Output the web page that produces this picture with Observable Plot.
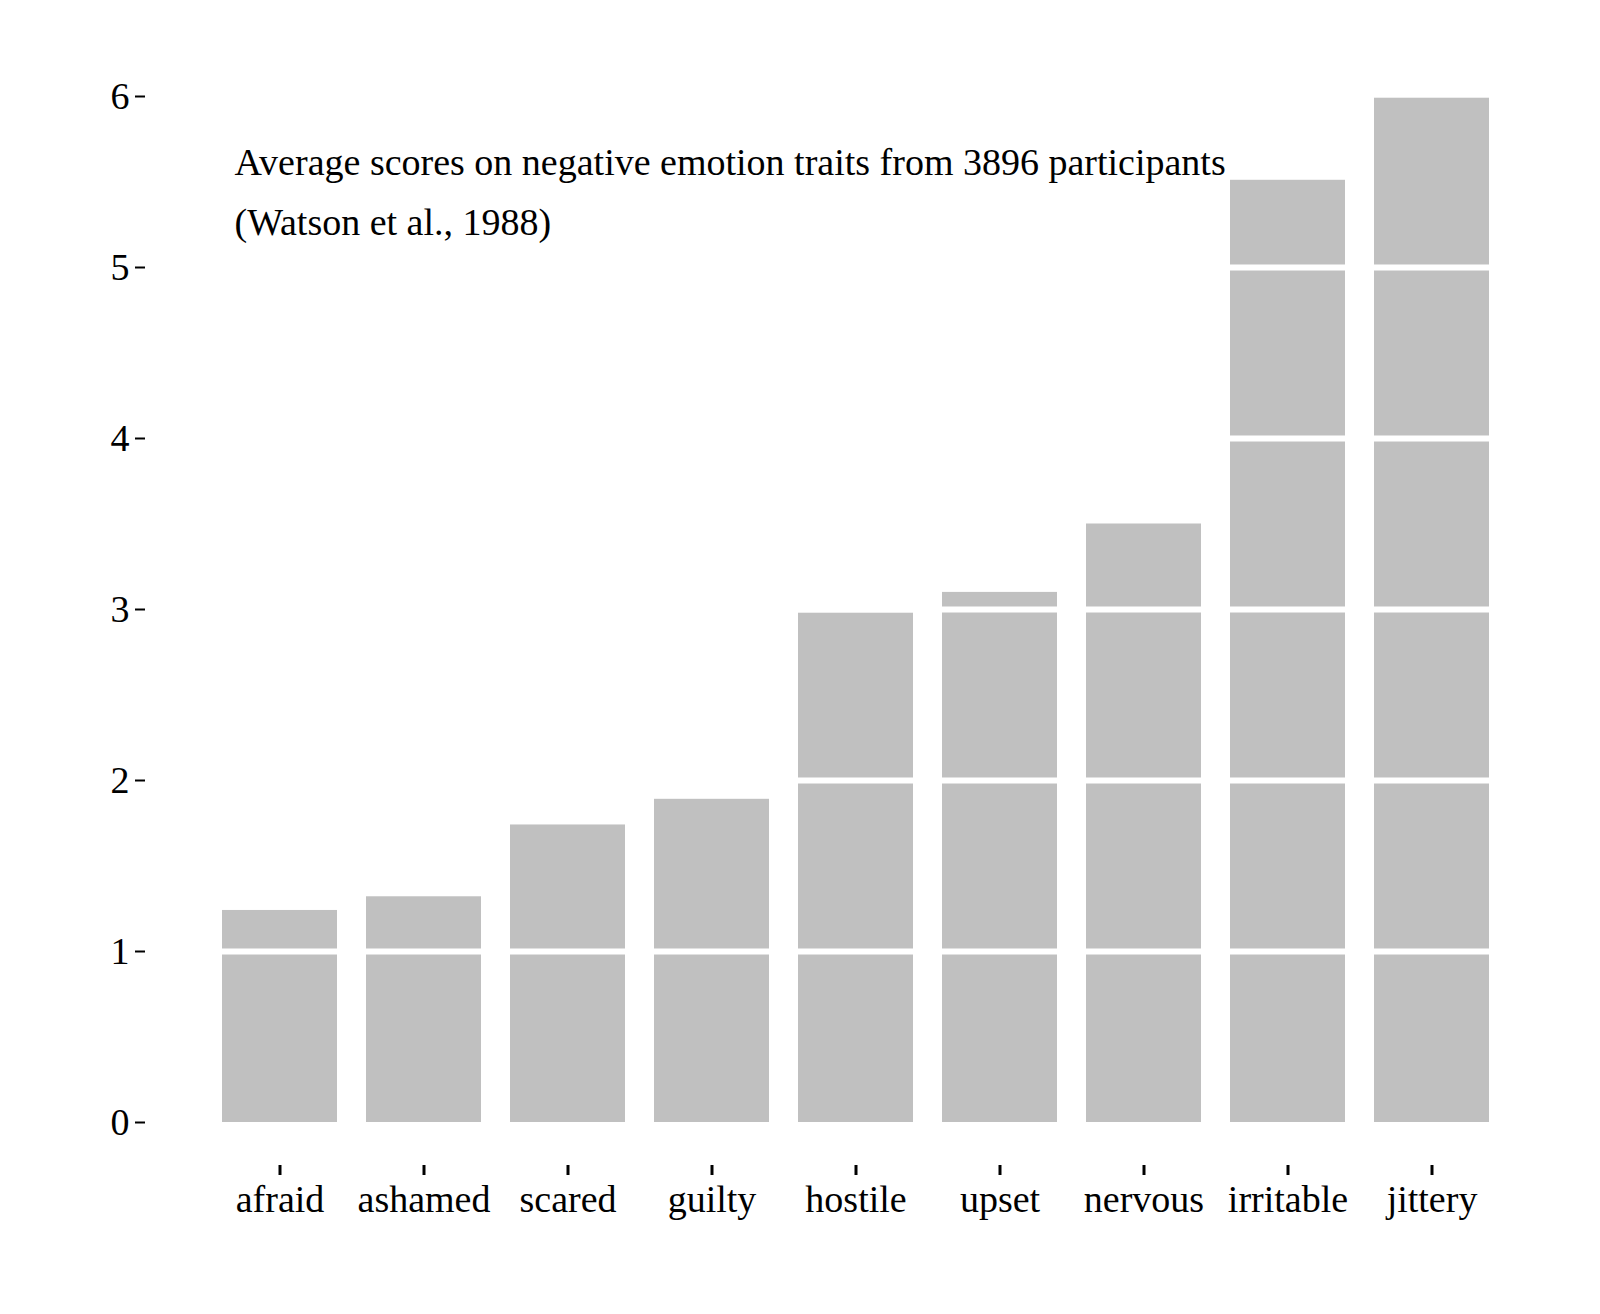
<!DOCTYPE html>
<html>
<head>
<meta charset="utf-8">
<script src="https://cdn.jsdelivr.net/npm/d3@7"></script>
<script src="https://cdn.jsdelivr.net/npm/@observablehq/plot@0.6"></script>
<style>
  html, body { margin: 0; background: #fff; overflow: hidden; }
  #chart svg { display: block; }
</style>
</head>
<body>
<div id="chart"></div>
<script>
// ── data ──
const EMOTIONS = ["afraid", "ashamed", "scared", "guilty", "hostile", "upset", "nervous", "irritable", "jittery"];
const SCORES   = [1.24, 1.32, 1.74, 1.89, 2.98, 3.10, 3.50, 5.51, 5.99];
const Y_TICKS  = [0, 1, 2, 3, 4, 5, 6];
const GRID     = [1, 2, 3, 4, 5];
const TITLE    = "Average scores on negative emotion traits from 3896 participants\n(Watson et al., 1988)";

const rows = EMOTIONS.map((e, i) => ({ emotion: e, score: SCORES[i] }));

const chart = Plot.plot({
  width: 1600,
  height: 1310,
  marginLeft: 193,
  marginRight: 82,
  marginTop: 96,
  marginBottom: 188,
  style: { fontFamily: "Liberation Serif, Times New Roman, serif", fontSize: "38px", color: "#000", background: "#fff" },
  x: { domain: EMOTIONS, padding: 0.2, label: null },
  y: { domain: [0, 6], label: null },
  marks: [
    Plot.barY(rows, { x: "emotion", y: "score", fill: "#c0c0c0" }),
    Plot.ruleY(GRID, { stroke: "#fff", strokeWidth: 6 }),
    Plot.axisY(Y_TICKS, { dx: -48, tickSize: 10, tickPadding: 6, strokeWidth: 2, fontSize: 38, tickFormat: "d", label: null }),
    Plot.axisX({ dy: 43, tickSize: 10, tickPadding: 10, strokeWidth: 3, fontSize: 38, label: null }),
    Plot.text([TITLE], {
      frameAnchor: "top-left", textAnchor: "start", lineAnchor: "top",
      dx: 41, dy: 36, fontSize: 38, lineHeight: 1.58, fill: "#000"
    })
  ]
});

document.getElementById("chart").appendChild(chart);
</script>
</body>
</html>
